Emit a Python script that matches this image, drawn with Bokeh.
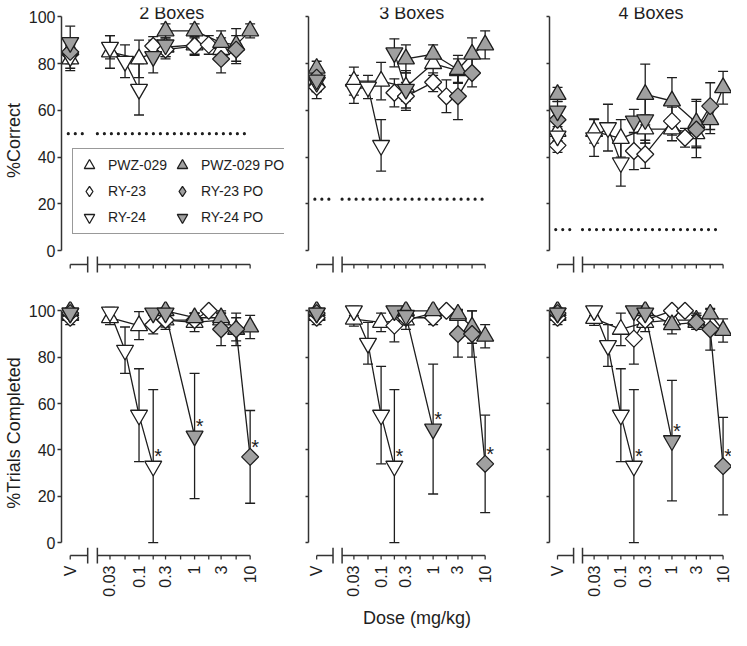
import numpy as np
from bokeh.plotting import figure
from bokeh.models import (Range1d, FixedTicker, Whisker, TeeHead, ColumnDataSource,
                          Legend, LegendItem, Label, CustomLabelingPolicy)
from bokeh.layouts import gridplot
from bokeh.embed import file_html
from bokeh.resources import INLINE
from bokeh.core.properties import value

# ---------------- data ----------------
TITLES = ["2 Boxes", "3 Boxes", "4 Boxes"]
CHANCE = [50, 22, 9]
SERIES = ["PWZ-029", "RY-23", "RY-24", "PWZ-029 PO", "RY-23 PO", "RY-24 PO"]
TICK_DOSES = [0.03, 0.056, 0.1, 0.18, 0.3, 0.56, 1, 1.8, 3, 5.6, 10]
LABEL_DOSES = [0.03, 0.1, 0.3, 1, 3, 10]
LABEL_TEXT = ["0.03", "0.1", "0.3", "1", "3", "10"]
Y_TICKS = [0, 20, 40, 60, 80, 100]

DOSES = {
    "PWZ-029": [0.03, 0.1, 0.3, 1, 3],
    "RY-23": [0.18, 0.3, 1, 1.8],
    "RY-24": [0.03, 0.056, 0.1, 0.18],
    "PWZ-029 PO": [0.3, 1, 3, 5.6, 10],
    "RY-23 PO": [3, 5.6, 10],
    "RY-24 PO": [0.18, 0.3, 1],
}

# (vehicle mean, vehicle sem, dose means, dose sems)
CORRECT_2 = {
    "PWZ-029": (82, 5, [85, 82, 87, 88, 86], [7, 8, 4, 4, 5]),
    "RY-23": (84, 4, [87.5, 86, 87.5, 88], [4, 4, 4, 4]),
    "RY-24": (83, 5, [87, 81, 69, None], [5, 7, 11, None]),
    "PWZ-029 PO": (86, 5, [94, 94, 89, 88, 94], [3, 3, 5, 7, 3]),
    "RY-23 PO": (85, 4, [82, 86, None], [6, 6, None]),
    "RY-24 PO": (89, 7, [83, 88, None], [7, 5, None]),
}
CORRECT_3 = {
    "PWZ-029": (72, 4, [72.5, 72.5, 70, 80, 77], [6, 8, 6, 5, 5]),
    "RY-23": (70, 5, [67.5, 66, 72, 66], [6, 6, 4, 7]),
    "RY-24": (72, 4, [69, 70, 45, None], [6, 5, 11, None]),
    "PWZ-029 PO": (78, 3, [82, 84, 77.5, 84, 88], [6, 4, 6, 7, 6]),
    "RY-23 PO": (74, 4, [66, 76, None], [10, 6, None]),
    "RY-24 PO": (73, 4, [84.6, 69, None], [6, 8, None]),
}
CORRECT_4 = {
    "PWZ-029": (51, 4, [51, 48, 52, 52, 50], [5, 8, 6, 5, 6]),
    "RY-23": (45, 3, [42.6, 41.2, 55.4, 48.3], [8, 6, 6, 4]),
    "RY-24": (49, 4, [48.3, 52.6, 37.6, None], [8, 10, 10, None]),
    "PWZ-029 PO": (66.8, 3, [66.8, 64, 54.7, 56, 69.7], [13, 10, 10, 6, 7]),
    "RY-23 PO": (56, 4, [51.8, 61.8, None], [12, 10, None]),
    "RY-24 PO": (59.7, 4, [55.4, 56, None], [5, 10, None]),
}
COMPLETED_2 = {
    "PWZ-029": (98, 2, [97, 93.6, 96, 95, 96], [3, 6, 4, 4, 3]),
    "RY-23": (97, 3, [94, 96, 96, 100], [4, 3, 3, 0]),
    "RY-24": (99, 2, [99.5, 83, 55, 33], [2, 10, 20, 33]),
    "PWZ-029 PO": (100, 1, [100, 97, 97, 92, 93], [1, 2, 3, 5, 5]),
    "RY-23 PO": (99, 2, [92, 92, 37], [7, 7, 20]),
    "RY-24 PO": (99, 2, [99, 99, 46], [1, 2, 27]),
}
COMPLETED_3 = {
    "PWZ-029": (98, 2, [96.4, 95, 96, 99, 98], [3, 4, 4, 2, 2]),
    "RY-23": (97, 3, [93.6, 97, 97, 100], [7, 3, 3, 0]),
    "RY-24": (99, 2, [100, 86, 55, 33], [2, 9, 21, 33]),
    "PWZ-029 PO": (100, 1, [100, 100, 98.6, 93, 89], [1, 1, 2, 7, 5]),
    "RY-23 PO": (99, 2, [90, 90, 34], [10, 10, 21]),
    "RY-24 PO": (99, 2, [100, 98, 49], [1, 2, 28]),
}
COMPLETED_4 = {
    "PWZ-029": (98, 2, [96.7, 92, 95, 96, 96], [3, 7, 4, 3, 3]),
    "RY-23": (97, 3, [88, 96, 100, 100], [11, 3, 1, 0]),
    "RY-24": (99, 2, [100, 85, 55, 33], [2, 9, 20, 33]),
    "PWZ-029 PO": (100, 1, [100, 94, 95, 98.6, 91.5], [1, 4, 3, 2, 5]),
    "RY-23 PO": (99, 2, [95, 92, 33], [3, 9, 21]),
    "RY-24 PO": (99, 2, [100, 99, 44], [1, 2, 26]),
}
SIGNIFICANT = [("RY-24", 0.18), ("RY-24 PO", 1), ("RY-23 PO", 10)]

PANEL_DATA = [[CORRECT_2, CORRECT_3, CORRECT_4],
              [COMPLETED_2, COMPLETED_3, COMPLETED_4]]

# ---------------- style / layout ----------------
FONT = "Liberation Sans"
INK = "#1e1e1e"
AXC = "#333333"
GRAY = "#a0a0a0"
MARKER = {"PWZ-029": "triangle", "RY-23": "square", "RY-24": "inverted_triangle",
          "PWZ-029 PO": "triangle", "RY-23 PO": "square", "RY-24 PO": "inverted_triangle"}
LEGEND_MARKER = {"triangle": "triangle", "inverted_triangle": "inverted_triangle",
                 "square": "diamond"}
SIZE = {"triangle": 17, "inverted_triangle": 17, "square": 12}
ANGLE = {"triangle": 0.0, "inverted_triangle": 0.0, "square": np.pi / 4}

PX_DEC = 57.3
X_START = float(np.log10(0.03)) - 50 / PX_DEC
V_POS = X_START + 9 / PX_DEC
BRK_L = X_START + 27 / PX_DEC
BRK_R = X_START + 37 / PX_DEC
DOT_L = (X_START + 7 / PX_DEC, X_START + 24 / PX_DEC)
DOT_R = (X_START + 37 / PX_DEC, X_START + 193 / PX_DEC)
TITLE_X = -0.41
FIG_W = [284, 241, 206]
BORDER_L = [54, 2, 2]
ROWS = [
    dict(h=290, top=7, bottom=17, y0=-9.8, y1=104, axis_px=14),
    dict(h=340, top=11, bottom=63, y0=-9.4, y1=104, axis_px=13),
]

HIDE_CODE = """
const n = indices.size
for (let i = 0; i < n; i++) { indices.unset(i) }
return indices
"""


def make_panel(r, c):
    cfg = ROWS[r]
    fw = FIG_W[c] - BORDER_L[c]
    p = figure(width=FIG_W[c], height=cfg["h"],
               x_range=Range1d(X_START, X_START + fw / PX_DEC),
               y_range=Range1d(cfg["y0"], cfg["y1"]),
               output_backend="svg", toolbar_location=None,
               min_border_left=BORDER_L[c], min_border_right=0,
               min_border_top=cfg["top"], min_border_bottom=cfg["bottom"])
    p.outline_line_color = None
    p.xgrid.visible = False
    p.ygrid.visible = False
    fh = cfg["h"] - cfg["top"] - cfg["bottom"]
    ppy = fh / (cfg["y1"] - cfg["y0"])

    # y axis
    ya = p.yaxis[0]
    ya.bounds = (0, 100)
    ya.ticker = FixedTicker(ticks=Y_TICKS, minor_ticks=[])
    ya.axis_line_color = AXC
    ya.axis_line_width = 1.5
    ya.major_tick_line_color = AXC
    ya.major_tick_line_width = 1.5
    ya.major_tick_in = 0
    ya.minor_tick_line_color = None
    if c == 0:
        ya.major_tick_out = 4
        ya.major_label_standoff = 2
        ya.major_label_text_font = FONT
        ya.major_label_text_font_size = "16px"
        ya.major_label_text_color = INK
        ya.axis_label = "%Correct" if r == 0 else "%Trials Completed"
        ya.axis_label_text_font = FONT
        ya.axis_label_text_font_size = "18px"
        ya.axis_label_text_font_style = "normal"
        ya.axis_label_text_color = INK
        ya.axis_label_standoff = 2
    else:
        ya.major_tick_out = 3
        ya.major_label_standoff = 0
        ya.major_label_policy = CustomLabelingPolicy(code=HIDE_CODE)

    # x axis (line, break and ticks drawn as glyphs; labels by the real axis)
    xa = p.xaxis[0]
    if r == 0:
        xa.visible = False
    else:
        tick_pos = [V_POS] + [float(np.log10(d)) for d in LABEL_DOSES]
        xa.ticker = FixedTicker(ticks=tick_pos, minor_ticks=[])
        overrides = {tick_pos[0]: "V"}
        for t, lab in zip(tick_pos[1:], LABEL_TEXT):
            overrides[t] = lab
        xa.major_label_overrides = overrides
        xa.axis_line_color = None
        xa.major_tick_line_color = None
        xa.minor_tick_line_color = None
        xa.major_tick_in = 0
        xa.major_tick_out = 0
        xa.major_label_standoff = 1
        xa.major_label_orientation = np.pi / 2
        xa.major_label_text_font = FONT
        xa.major_label_text_font_size = "16px"
        xa.major_label_text_color = INK
        if c == 1:
            xa.axis_label = "Dose (mg/kg)"
            xa.axis_label_text_font = FONT
            xa.axis_label_text_font_size = "18px"
            xa.axis_label_text_font_style = "normal"
            xa.axis_label_text_color = INK
            xa.axis_label_standoff = 8

    ay = -cfg["axis_px"] / ppy
    tick_len = 4 / ppy
    brk = 8 / ppy
    p.segment(x0=[V_POS, BRK_R], y0=[ay, ay], x1=[BRK_L, 1.0], y1=[ay, ay],
              line_color=AXC, line_width=1.5)
    p.segment(x0=[BRK_L, BRK_R], y0=[ay + brk, ay + brk], x1=[BRK_L, BRK_R],
              y1=[ay - brk, ay - brk], line_color=AXC, line_width=1.5)
    tx = [V_POS] + [float(np.log10(d)) for d in TICK_DOSES]
    p.segment(x0=tx, y0=[ay] * len(tx), x1=tx, y1=[ay - tick_len] * len(tx),
              line_color=AXC, line_width=1.3)

    # chance level + panel title
    if r == 0:
        ch = CHANCE[c]
        for a, b in (DOT_L, DOT_R):
            p.line([a, b], [ch, ch], line_color=INK, line_width=3.2,
                   line_dash="0 7", line_cap="round")
        p.add_layout(Label(x=TITLE_X, y=101.45, text=TITLES[c], text_align="center",
                           text_baseline="alphabetic", text_font=FONT,
                           text_font_size="18px", text_color=INK))

    data = PANEL_DATA[r][c]
    prepared = {}
    for s in SERIES:
        vm, vs, means, sems = data[s]
        xs, ys, es = [V_POS], [vm], [vs]
        for d, m, e in zip(DOSES[s], means, sems):
            if m is None:
                continue
            xs.append(float(np.log10(d)))
            ys.append(m)
            es.append(e)
        prepared[s] = (xs, ys, es)

    for s in SERIES:
        xs, ys, es = prepared[s]
        kx = [x for x, e in zip(xs, es) if e > 0]
        ky = [y for y, e in zip(ys, es) if e > 0]
        ke = [e for e in es if e > 0]
        src = ColumnDataSource(dict(x=kx, upper=[y + e for y, e in zip(ky, ke)],
                                    lower=[y - e for y, e in zip(ky, ke)]))
        w = Whisker(source=src, base="x", upper="upper", lower="lower",
                    dimension="height", line_color=INK, line_width=1.3, level="underlay",
                    upper_head=TeeHead(size=10, line_color=INK, line_width=1.3),
                    lower_head=TeeHead(size=10, line_color=INK, line_width=1.3))
        p.add_layout(w)

    for s in SERIES:
        xs, ys, es = prepared[s]
        p.line(xs[1:], ys[1:], line_color=INK, line_width=1.3)

    for s in SERIES:
        xs, ys, es = prepared[s]
        m = MARKER[s]
        p.scatter(xs, ys, marker=m, size=SIZE[m], angle=ANGLE[m],
                  fill_color=(GRAY if s.endswith("PO") else "white"),
                  line_color=INK, line_width=1.3)

    if r == 1:
        sx, sy = [], []
        for s, d in SIGNIFICANT:
            idx = DOSES[s].index(d)
            sx.append(float(np.log10(d)))
            sy.append(data[s][2][idx])
        p.text(sx, sy, text=["*"] * len(sx), x_offset=5, y_offset=-10,
               text_font=value(FONT), text_font_size="20px", text_color=INK,
               text_align="center", text_baseline="middle")

    if r == 0 and c == 0:
        items = []
        for s in SERIES:
            m = MARKER[s]
            proxy = p.scatter(x=[np.nan], y=[np.nan], marker=LEGEND_MARKER[m],
                              size=SIZE[m],
                              fill_color=(GRAY if s.endswith("PO") else "white"),
                              line_color=INK, line_width=1.3)
            items.append(LegendItem(label=s, renderers=[proxy]))
        leg = Legend(items=items, location=(11, 39), orientation="vertical", nrows=3,
                     glyph_width=26, glyph_height=26, spacing=0, padding=3, margin=0,
                     label_standoff=6, label_width=61, label_height=20,
                     label_text_font=FONT, label_text_font_size="14px",
                     label_text_color=INK, border_line_color=AXC,
                     border_line_width=1.5, background_fill_color="white",
                     background_fill_alpha=1.0)
        p.add_layout(leg)
    return p


grid = [[make_panel(r, c) for c in range(3)] for r in range(2)]
layout = gridplot(grid, toolbar_location=None)

with open("out.html", "w") as f:
    f.write(file_html(layout, INLINE))
